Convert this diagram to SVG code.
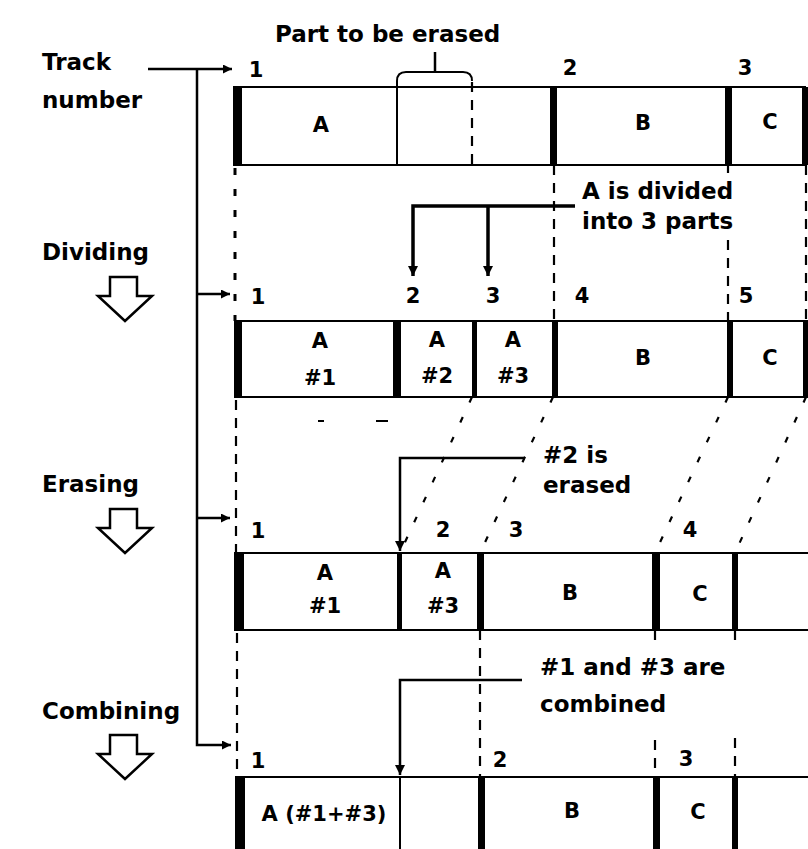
<svg xmlns="http://www.w3.org/2000/svg" width="808" height="849" viewBox="0 0 808 849">
<style>
text{font-family:"DejaVu Sans","Liberation Sans",sans-serif;font-weight:bold;fill:#000}
.lbl{font-size:23px}
.num{font-size:21px;text-anchor:middle}
.bx{font-size:21px;text-anchor:middle}
.ln{stroke:#000;stroke-width:2;fill:none}
.bar{fill:#000}
.dash{stroke:#000;stroke-width:2.2;fill:none;stroke-dasharray:10 8}
.dot{stroke:#000;stroke-width:3;fill:none;stroke-dasharray:7 14}
.sl{stroke:#000;stroke-width:2.2;fill:none;stroke-dasharray:6 16}
.conn{stroke:#000;stroke-width:2.5;fill:none}
.bold{stroke:#000;stroke-width:3.5;fill:none}
.blk{fill:#fff;stroke:#000;stroke-width:2.5;stroke-linejoin:miter}
</style>
<defs>
<marker id="ah" viewBox="0 0 10 10" refX="10" refY="5" markerWidth="9" markerHeight="9" markerUnits="userSpaceOnUse" orient="auto">
<path d="M0,0 L10,5 L0,10 z" fill="#000"/>
</marker>
<marker id="ahb" viewBox="0 0 10 10" refX="10" refY="5" markerWidth="12" markerHeight="10" markerUnits="userSpaceOnUse" orient="auto">
<path d="M0,0 L10,5 L0,10 z" fill="#000"/>
</marker>
</defs>

<g id="labels">
<text class="lbl" x="42" y="70">Track</text>
<text class="lbl" x="42" y="108">number</text>
<text class="lbl" x="275" y="42">Part to be erased</text>
<text class="lbl" x="42" y="260">Dividing</text>
<text class="lbl" x="42" y="492">Erasing</text>
<text class="lbl" x="42" y="719">Combining</text>
<text class="lbl" x="582" y="199">A is divided</text>
<text class="lbl" x="582" y="229">into 3 parts</text>
<text class="lbl" x="543" y="463">#2 is</text>
<text class="lbl" x="543" y="493">erased</text>
<text class="lbl" x="540" y="675">#1 and #3 are</text>
<text class="lbl" x="540" y="712">combined</text>
</g>

<g id="step-arrows">
<polygon class="blk" points="110,277 137,277 137,296 152,296 125,321 98,296 110,296"/>
<polygon class="blk" points="110,509 137,509 137,528 152,528 125,553 98,528 110,528"/>
<polygon class="blk" points="110,735 137,735 137,754 152,754 125,779 98,754 110,754"/>
</g>

<g id="row1">
<path class="ln" d="M242,87 H806 M242,165 H806"/>
<rect class="bar" x="233" y="86" width="9" height="80"/>
<path class="ln" d="M397,165 V81 Q397,72 406,72 H463 Q472,72 472,81"/>
<line class="dash" x1="472" y1="82" x2="472" y2="165"/>
<line class="conn" x1="435" y1="52" x2="435" y2="72"/>
<rect class="bar" x="550" y="87" width="7" height="78"/>
<rect class="bar" x="725" y="87" width="7" height="78"/>
<rect class="bar" x="802" y="87" width="6" height="78"/>
<text class="num" x="256" y="77">1</text>
<text class="num" x="570" y="75">2</text>
<text class="num" x="745" y="75">3</text>
<text class="bx" x="321" y="132">A</text>
<text class="bx" x="643" y="130">B</text>
<text class="bx" x="770" y="129">C</text>
</g>

<g id="row2">
<path class="ln" d="M242,321 H808 M242,397 H808"/>
<rect class="bar" x="234" y="320" width="8" height="78"/>
<rect class="bar" x="393" y="321" width="8" height="76"/>
<rect class="bar" x="472" y="321" width="5" height="76"/>
<rect class="bar" x="552" y="321" width="6" height="76"/>
<rect class="bar" x="727" y="321" width="6" height="76"/>
<rect class="bar" x="803" y="321" width="5" height="76"/>
<text class="num" x="258" y="304">1</text>
<text class="num" x="413" y="303">2</text>
<text class="num" x="493" y="303">3</text>
<text class="num" x="582" y="303">4</text>
<text class="num" x="746" y="303">5</text>
<text class="bx" x="320" y="348">A</text>
<text class="bx" x="320" y="385">#1</text>
<text class="bx" x="437" y="347">A</text>
<text class="bx" x="437" y="383">#2</text>
<text class="bx" x="513" y="347">A</text>
<text class="bx" x="513" y="383">#3</text>
<text class="bx" x="643" y="365">B</text>
<text class="bx" x="770" y="365">C</text>
</g>

<g id="row3">
<path class="ln" d="M244,553 H808 M244,630 H808"/>
<rect class="bar" x="234" y="552" width="10" height="79"/>
<rect class="bar" x="397" y="553" width="5" height="77"/>
<rect class="bar" x="477" y="553" width="7" height="77"/>
<rect class="bar" x="652" y="553" width="8" height="77"/>
<rect class="bar" x="732" y="553" width="6" height="77"/>
<text class="num" x="258" y="538">1</text>
<text class="num" x="443" y="537">2</text>
<text class="num" x="516" y="537">3</text>
<text class="num" x="690" y="537">4</text>
<text class="bx" x="325" y="580">A</text>
<text class="bx" x="325" y="613">#1</text>
<text class="bx" x="443" y="578">A</text>
<text class="bx" x="443" y="613">#3</text>
<text class="bx" x="570" y="600">B</text>
<text class="bx" x="700" y="601">C</text>
</g>

<g id="row4">
<path class="ln" d="M245,777 H808"/>
<rect class="bar" x="235" y="776" width="10" height="73"/>
<line class="ln" x1="400" y1="777" x2="400" y2="849"/>
<rect class="bar" x="478" y="777" width="7" height="72"/>
<rect class="bar" x="653" y="777" width="7" height="72"/>
<rect class="bar" x="732" y="777" width="6" height="72"/>
<text class="num" x="258" y="768">1</text>
<text class="num" x="500" y="767">2</text>
<text class="num" x="686" y="766">3</text>
<text class="bx" x="324" y="821">A (#1+#3)</text>
<text class="bx" x="572" y="818">B</text>
<text class="bx" x="698" y="819">C</text>
</g>

<g id="connectors">
<path class="conn" d="M197,69 V745 H231" marker-end="url(#ah)"/>
<line class="conn" x1="148" y1="69" x2="232" y2="69" marker-end="url(#ah)"/>
<line class="conn" x1="197" y1="294" x2="230" y2="294" marker-end="url(#ah)"/>
<line class="conn" x1="197" y1="518" x2="230" y2="518" marker-end="url(#ah)"/>

<line class="dot" x1="235" y1="168" x2="235" y2="321"/>
<line class="dash" x1="236" y1="400" x2="236" y2="553"/>
<line class="dash" x1="237" y1="633" x2="237" y2="777"/>
<line class="dash" x1="554" y1="165" x2="554" y2="321"/>
<line class="dash" x1="728" y1="166" x2="728" y2="173"/>
<line class="dash" x1="728" y1="240" x2="728" y2="321"/>
<line class="dash" x1="806" y1="165" x2="806" y2="321"/>

<line class="sl" x1="472" y1="397" x2="400" y2="553"/>
<line class="sl" x1="553" y1="397" x2="480" y2="553"/>
<line class="sl" x1="728" y1="397" x2="655" y2="553"/>
<line class="sl" x1="806" y1="397" x2="735" y2="553"/>
<line class="dash" x1="318" y1="421" x2="395" y2="421" style="stroke-dasharray:6 52 12 60"/>

<line class="dash" x1="480" y1="630" x2="480" y2="777"/>
<line class="dash" x1="655" y1="630" x2="655" y2="640"/>
<line class="dash" x1="655" y1="740" x2="655" y2="777"/>
<line class="dash" x1="735" y1="630" x2="735" y2="640"/>
<line class="dash" x1="735" y1="738" x2="735" y2="777"/>

<path class="bold" d="M575,206 H413 V276" marker-end="url(#ahb)"/>
<path class="bold" d="M488,206 V276" marker-end="url(#ahb)"/>

<path class="conn" d="M525,458 H400 V551" marker-end="url(#ahb)"/>
<path class="conn" d="M522,680 H400 V775" marker-end="url(#ahb)"/>
</g>
</svg>
